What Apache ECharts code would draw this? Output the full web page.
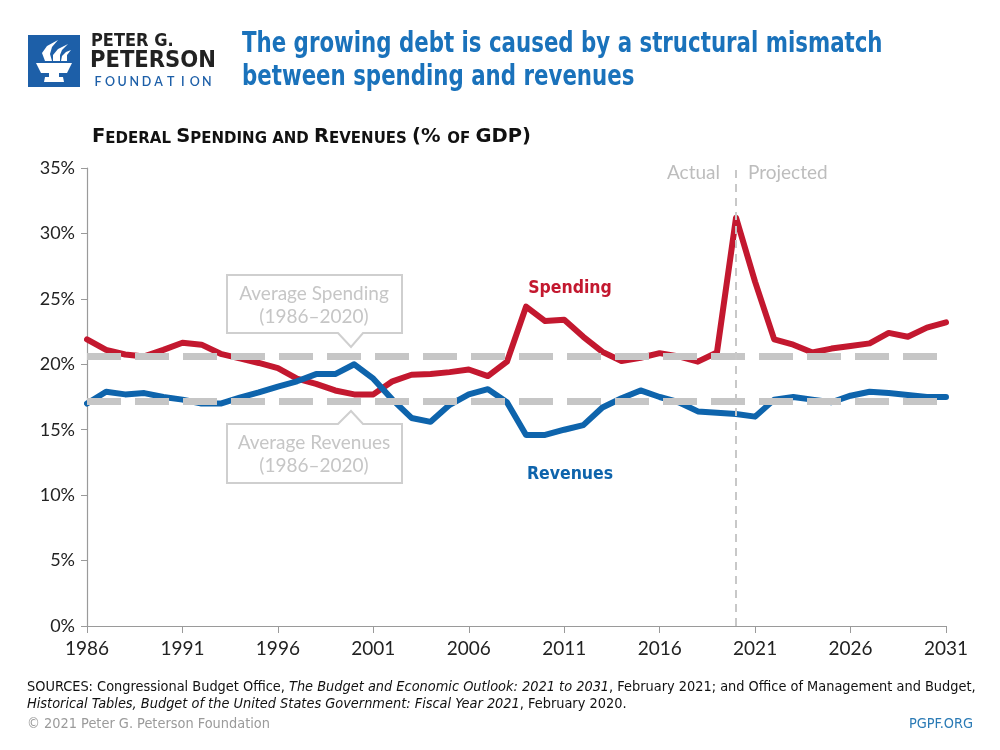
<!DOCTYPE html>
<html>
<head>
<meta charset="utf-8">
<script src="https://cdn.jsdelivr.net/npm/echarts@6/dist/echarts.min.js"></script>
<style>
html,body{margin:0;padding:0;background:#fff;}
#chart{width:1000px;height:750px;}
</style>
</head>
<body>
<div id="chart"></div>
<script>
// ---- data ----
var years = ['1986','1987','1988','1989','1990','1991','1992','1993','1994','1995','1996',
  '1997','1998','1999','2000','2001','2002','2003','2004','2005','2006','2007',
  '2008','2009','2010','2011','2012','2013','2014','2015','2016','2017','2018',
  '2019','2020','2021','2022','2023','2024','2025','2026','2027','2028','2029','2030','2031'];
var spending = [21.9,21.1,20.75,20.6,21.1,21.65,21.5,20.8,20.45,20.1,19.7,
  18.9,18.5,18.0,17.7,17.7,18.7,19.2,19.25,19.4,19.6,19.1,
  20.2,24.4,23.3,23.4,22.1,20.95,20.25,20.5,20.85,20.6,20.2,
  20.9,31.2,26.3,21.9,21.5,20.9,21.2,21.4,21.6,22.4,22.1,22.8,23.2];
var revenues = [17.0,17.9,17.7,17.8,17.5,17.3,17.0,17.0,17.45,17.85,18.3,
  18.7,19.25,19.25,20.0,18.9,17.3,15.9,15.6,16.9,17.7,18.1,
  17.1,14.6,14.6,15.0,15.35,16.7,17.4,18.0,17.5,17.1,16.4,
  16.3,16.2,16.0,17.3,17.5,17.3,17.1,17.6,17.9,17.8,17.65,17.5,17.5];
var avgSpending = 20.6;
var avgRevenues = 17.2;
var splitYear = '2020';
var yTicks = [0,5,10,15,20,25,30,35];

var RED = '#c3182f';
var BLUE = '#0e64ac';
var TITLEBLUE = '#1a72bb';
var GRAY = '#c6c6c6';
var NARROW = "'DejaVu Sans Condensed','Roboto',sans-serif";
var WIDE = "'DejaVu Sans','Roboto',sans-serif";
var SANS = "Lato,'Noto Sans',sans-serif";

var chart = echarts.init(document.getElementById('chart'));

// letter-spaced FOUNDATION
var foundation = 'FOUNDATION';
var fEls = [];
for (var i = 0; i < foundation.length; i++) {
  fEls.push({type:'text', x: 98 + i*12.1, y: 75,
    style:{text: foundation[i], fill:'#1d5fa8', font:'600 12.5px ' + SANS, align:'center', verticalAlign:'top'}});
}

var boxStroke = {stroke:'#cfcfcf', lineWidth:2, fill:'#fff'};
var footRich = {
  n:{fontSize:14.4, fontFamily:NARROW, fill:'#111'},
  i:{fontSize:14.4, fontFamily:NARROW, fontStyle:'italic', fill:'#111'}
};

var option = {
  animation: false,
  grid: {left: 87, right: 54, top: 168, bottom: 124, containLabel: false},
  xAxis: {
    type: 'category', data: years, boundaryGap: false,
    axisLine: {show: true, lineStyle: {color: '#9a9a9a', width: 1.2}},
    axisTick: {show: true, interval: 4, length: 7, lineStyle: {color: '#9a9a9a'}},
    axisLabel: {interval: 4, margin: 13, color: '#222', fontSize: 19, fontFamily: SANS},
    splitLine: {show: false}
  },
  yAxis: {
    type: 'value', min: yTicks[0], max: yTicks[yTicks.length-1], interval: 5,
    axisLine: {show: true, lineStyle: {color: '#9a9a9a', width: 1.2}},
    axisTick: {show: true, length: 6, lineStyle: {color: '#9a9a9a'}},
    axisLabel: {formatter: '{value}%', margin: 12, color: '#222', fontSize: 18, fontFamily: SANS},
    splitLine: {show: false}
  },
  series: [
    {
      type: 'line', data: [], z: 1, silent: true,
      markLine: {
        silent: true, symbol: 'none', label: {show: false}, animation: false,
        lineStyle: {color: GRAY, width: 7, type: [34, 14]},
        data: [{yAxis: avgSpending}, {yAxis: avgRevenues}]
      }
    },
    {
      type: 'line', data: [], z: 1, silent: true,
      markLine: {
        silent: true, symbol: 'none', label: {show: false}, animation: false,
        lineStyle: {color: '#c8c8c8', width: 2, type: [8, 6]},
        data: [{xAxis: splitYear}]
      }
    },
    {
      name: 'Spending', type: 'line', data: spending, z: 3,
      symbol: 'none', smooth: false,
      lineStyle: {color: RED, width: 6, join: 'round', cap: 'round'}
    },
    {
      name: 'Revenues', type: 'line', data: revenues, z: 3,
      symbol: 'none', smooth: false,
      lineStyle: {color: BLUE, width: 6, join: 'round', cap: 'round'}
    }
  ],
  graphic: [
    // logo
    {type:'rect', shape:{x:28, y:35, width:52, height:52}, style:{fill:'#1d5fa8'}},
    {type:'polygon', shape:{points:[[45,61],[42,53],[47,46],[58,40],[52,47],[50,54],[52,61]]}, style:{fill:'#fff'}},
    {type:'polygon', shape:{points:[[53,61],[53,55],[58,49],[68,44],[62,50],[60,55],[60,61]]}, style:{fill:'#fff'}},
    {type:'polygon', shape:{points:[[61,61],[62,56],[66,52],[71,50],[67,55],[67,61]]}, style:{fill:'#fff'}},
    {type:'polygon', shape:{points:[[36,63],[72,63],[67,73],[41,73]]}, style:{fill:'#fff'}},
    {type:'rect', shape:{x:49, y:73, width:10, height:4}, style:{fill:'#fff'}},
    {type:'polygon', shape:{points:[[45,77],[63,77],[64,82],[44,82]]}, style:{fill:'#fff'}},
    {type:'text', x: 91, y: 32, style:{text:'PETER G.', fill:'#222', font:'bold 18px ' + NARROW, verticalAlign:'top'}},
    {type:'text', x: 90, y: 49, style:{text:'PETERSON', fill:'#222', font:'bold 23.5px ' + NARROW, verticalAlign:'top'}}
  ].concat(fEls).concat([
    // title
    {type:'text', x: 242, y: 31, scaleX: 0.862, style:{text:'The growing debt is caused by a structural mismatch', fill: TITLEBLUE, font:'bold 27.5px ' + NARROW, verticalAlign:'top'}},
    {type:'text', x: 242, y: 64, scaleX: 0.862, style:{text:'between spending and revenues', fill: TITLEBLUE, font:'bold 27.5px ' + NARROW, verticalAlign:'top'}},
    // subtitle small caps
    {type:'text', left: 92, top: 127, style:{
      text:'{b|F}{s|EDERAL }{b|S}{s|PENDING AND }{b|R}{s|EVENUES }{b|(% }{s|OF }{b|GDP)}',
      rich:{
        b:{fontSize:19.5, fontWeight:'bold', fontFamily:WIDE, fill:'#111', verticalAlign:'bottom', lineHeight:22},
        s:{fontSize:15, fontWeight:'bold', fontFamily:WIDE, fill:'#111', verticalAlign:'bottom', lineHeight:22}
      }}},
    // actual / projected
    {type:'text', right: 1000-720, top: 163, style:{text:'Actual', fill:'#bdbdbd', font:'19px ' + SANS, align:'right'}},
    {type:'text', left: 748, top: 163, style:{text:'Projected', fill:'#bdbdbd', font:'19px ' + SANS}},
    // average spending box
    {type:'polygon', shape:{points:[[338,333],[227,333],[227,275],[402,275],[402,333],[363,333],[351,347]]}, style: boxStroke, z: 10},
    {type:'text', x: 314, y: 294, style:{text:'Average Spending', fill:GRAY, font:'19px ' + SANS, align:'center', verticalAlign:'middle'}, z: 11},
    {type:'text', x: 314, y: 317, style:{text:'(1986–2020)', fill:GRAY, font:'19px ' + SANS, align:'center', verticalAlign:'middle'}, z: 11},
    // average revenues box
    {type:'polygon', shape:{points:[[338,424],[227,424],[227,483],[402,483],[402,424],[363,424],[351,411]]}, style: boxStroke, z: 10},
    {type:'text', x: 314, y: 443, style:{text:'Average Revenues', fill:GRAY, font:'19px ' + SANS, align:'center', verticalAlign:'middle'}, z: 11},
    {type:'text', x: 314, y: 466, style:{text:'(1986–2020)', fill:GRAY, font:'19px ' + SANS, align:'center', verticalAlign:'middle'}, z: 11},
    // series labels
    {type:'text', x: 570, y: 288, style:{text:'Spending', fill:RED, font:'bold 17.5px ' + NARROW, align:'center', verticalAlign:'middle'}},
    {type:'text', x: 570, y: 474, style:{text:'Revenues', fill:BLUE, font:'bold 17.5px ' + NARROW, align:'center', verticalAlign:'middle'}},
    // footer
    {type:'text', left: 27, top: 680, style:{
      text:'{n|SOURCES: Congressional Budget Office, }{i|The Budget and Economic Outlook: 2021 to 2031}{n|, February 2021; and Office of Management and Budget,}',
      rich: footRich}},
    {type:'text', left: 27, top: 697, style:{
      text:'{i|Historical Tables, Budget of the United States Government: Fiscal Year 2021}{n|, February 2020.}',
      rich: footRich}},
    {type:'text', left: 27, top: 717, style:{text:'© 2021 Peter G. Peterson Foundation', fill:'#9a9a9a', font:'14.4px ' + NARROW}},
    {type:'text', right: 27, top: 717, style:{text:'PGPF.ORG', fill:'#2a7ab5', font:'14.4px ' + NARROW, align:'right'}}
  ])
};
chart.setOption(option);
</script>
</body>
</html>
